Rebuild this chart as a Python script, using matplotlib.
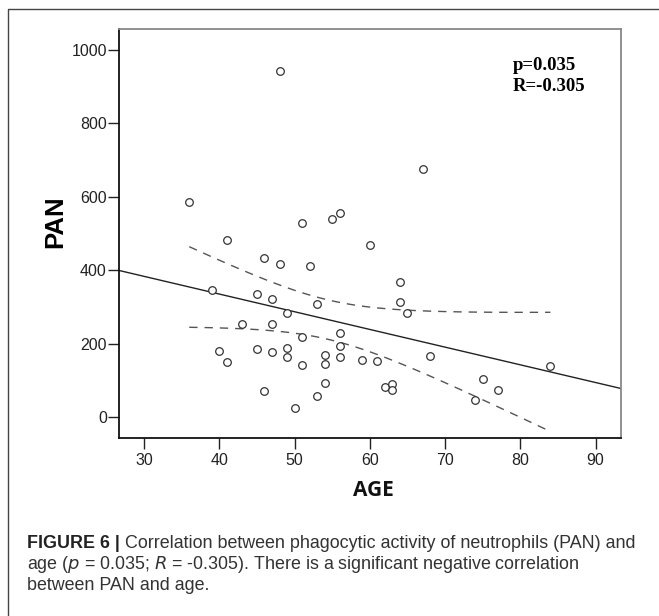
import numpy as np
import matplotlib.pyplot as plt
from matplotlib.lines import Line2D

# age vs phagocytic activity of neutrophils
age = [48, 36, 41, 51, 55, 56, 60, 46, 48, 52, 67, 39, 45, 47, 49, 53,
       43, 47, 51, 56, 56, 40, 41, 45, 47, 49, 49, 51, 54, 54, 56, 59,
       61, 46, 54, 53, 50, 64, 64, 65, 68, 84, 75, 77, 74, 62, 63, 63]
pan = [943, 584, 483, 529, 539, 555, 468, 433, 416, 412, 674, 346, 335,
       321, 284, 307, 253, 253, 219, 229, 193, 180, 150, 185, 176, 189,
       164, 141, 169, 145, 164, 156, 153, 72, 93, 58, 25, 367, 312, 282,
       167, 139, 104, 75, 47, 82, 90, 73]

x_ticks = [30, 40, 50, 60, 70, 80, 90]
y_ticks = [0, 200, 400, 600, 800, 1000]
stats_text = "p=0.035\nR=-0.305"

x = np.array(age, dtype=float)
y = np.array(pan, dtype=float)
n = len(x)
slope, icpt = np.polyfit(x, y, 1)
resid = y - (slope * x + icpt)
s = np.sqrt(np.sum(resid ** 2) / (n - 2))
sxx = np.sum((x - x.mean()) ** 2)
t_crit = 2.0129  # t(0.975, df=46)

fig = plt.figure(figsize=(6.59, 6.16), dpi=100)
ax = fig.add_axes([0.181, 0.2894, 0.761, 0.6635])

xlim = (26.7, 93.35)
ax.set_xlim(*xlim)
ax.set_ylim(-56, 1056)

xf = np.linspace(xlim[0], xlim[1], 50)
ax.plot(xf, slope * xf + icpt, color="#222222", lw=1.0, zorder=2)

xc = np.linspace(x.min(), x.max(), 100)
half = t_crit * s * np.sqrt(1.0 / n + (xc - x.mean()) ** 2 / sxx)
yc = slope * xc + icpt
for band in (yc + half, yc - half):
    ax.plot(xc, band, color="#555555", lw=1.0, ls=(0, (6, 5)), zorder=2)

ax.scatter(x, y, s=30, facecolors="white", edgecolors="#333333",
           linewidths=0.9, zorder=3)

ax.set_xticks(x_ticks)
ax.set_yticks(y_ticks)
ax.tick_params(axis="both", direction="out", length=8, width=1.0,
               colors="#222222", labelsize=11.5, labelcolor="#222222")
ax.tick_params(axis="x", pad=3)
ax.tick_params(axis="y", pad=1)
for lab in ax.get_xticklabels() + ax.get_yticklabels():
    lab.set_family("Liberation Sans")
for side in ("left", "bottom"):
    ax.spines[side].set_color("#111111")
    ax.spines[side].set_linewidth(1.3)
for side in ("top", "right"):
    ax.spines[side].set_color("#888888")
    ax.spines[side].set_linewidth(1.3)

ax.text(0.785, 0.932, stats_text, transform=ax.transAxes, ha="left",
        va="top", family="Liberation Serif", fontweight="bold",
        fontsize=13.5, linespacing=1.3, color="black")

fig.text(55 / 659, 1 - 222 / 616, "PAN", rotation=90, ha="center",
         va="center", family="Liberation Sans", fontweight="bold",
         fontsize=18.5, color="black")
fig.text(373 / 659, 1 - 491 / 616, "AGE", ha="center", va="center",
         family="Open Sans", fontweight="bold", fontsize=15, color="#111111")

# outer frame (top and left edges)
fig.add_artist(Line2D([8 / 659, 8 / 659, 1.0],
                      [0.0, 1 - 9 / 616, 1 - 9 / 616],
                      transform=fig.transFigure, color="#444444", lw=1.0))

# caption
cap_x = 27 / 659
base = [548, 569, 589.5]
cap_size = 12.9
cap_color = "#333333"
t0 = fig.text(cap_x, 1 - base[0] / 616, "FIGURE 6 | ", family="Liberation Sans",
              fontweight="bold", fontsize=cap_size, color="#222222", va="baseline")
fig.canvas.draw()
bb = t0.get_window_extent(renderer=fig.canvas.get_renderer())
fig.text(bb.x1 / (fig.dpi * 6.59), 1 - base[0] / 616,
         "Correlation between phagocytic activity of neutrophils (PAN) and",
         family="Liberation Sans", fontsize=cap_size, color=cap_color, va="baseline")
fig.text(cap_x, 1 - base[1] / 616,
         "age ($\\it{p}$ = 0.035; $\\it{R}$ = -0.305). There is a significant negative correlation",
         family="Liberation Sans", fontsize=cap_size, color=cap_color, va="baseline")
fig.text(cap_x, 1 - base[2] / 616, "between PAN and age.",
         family="Liberation Sans", fontsize=cap_size, color=cap_color, va="baseline")

fig.savefig("out.png", dpi=100)
